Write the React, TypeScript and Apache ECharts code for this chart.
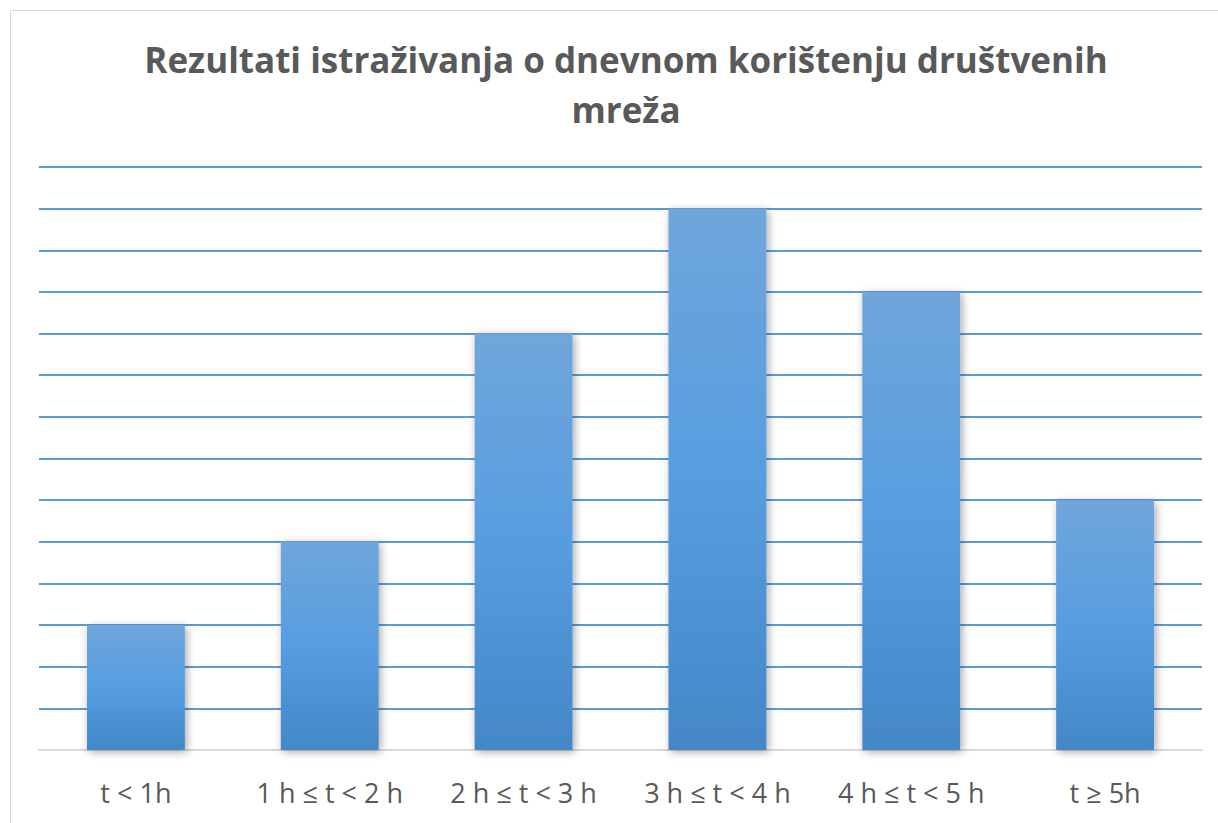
import React, { useEffect, useRef } from "react";
import * as echarts from "echarts";

const categories = ["t < 1h", "1 h ≤ t < 2 h", "2 h ≤ t < 3 h", "3 h ≤ t < 4 h", "4 h ≤ t < 5 h", "t ≥ 5h"];
const values = [3, 5, 10, 13, 11, 6];
const titleText = "Rezultati istraživanja o dnevnom korištenju društvenih\nmreža";

export default function App() {
  const ref = useRef<HTMLDivElement>(null);
  useEffect(() => {
    if (!ref.current) return;
    const chart = echarts.init(ref.current, undefined, { renderer: "svg" });
    chart.setOption({
      animation: false,
      backgroundColor: "#ffffff",
      title: {
        text: titleText,
        left: 621,
        top: 29,
        textAlign: "center",
        textStyle: {
          fontFamily: "Open Sans",
          fontWeight: "bold",
          fontSize: 35,
          lineHeight: 50,
          color: "#595959",
        },
      },
      graphic: [
        {
          type: "rect",
          shape: { x: 10.5, y: 10.5, width: 1230, height: 830 },
          style: { fill: "none", stroke: "#d9d9d9", lineWidth: 1 },
          silent: true,
        },
      ],
      grid: { left: 39, right: 16, top: 167, bottom: 73 },
      xAxis: {
        type: "category",
        data: categories,
        axisLine: { show: true, lineStyle: { color: "#d9d9d9", width: 2 } },
        axisTick: { show: false },
        axisLabel: {
          fontFamily: "Open Sans",
          fontSize: 27,
          color: "#595959",
          margin: 29,
          interval: 0,
        },
      },
      yAxis: {
        type: "value",
        min: 0,
        max: 14,
        interval: 1,
        axisLabel: { show: false },
        axisLine: { show: false },
        axisTick: { show: false },
        splitLine: { show: true, showMinLine: false, lineStyle: { color: "#5b9bd5", width: 2 } },
      },
      series: [
        {
          type: "bar",
          data: values,
          barWidth: "50.5%",
          itemStyle: {
            color: new echarts.graphic.LinearGradient(0, 0, 0, 1, [
              { offset: 0, color: "#6fa6db" },
              { offset: 0.5, color: "#579de0" },
              { offset: 1, color: "#4487c7" },
            ]),
            shadowBlur: 8,
            shadowColor: "rgba(0,0,0,0.35)",
            shadowOffsetX: 2,
            shadowOffsetY: 2,
          },
        },
      ],
    });
    return () => chart.dispose();
  }, []);
  return <div ref={ref} style={{ position: "fixed", left: 0, top: 0, width: 1218, height: 823 }} />;
}
